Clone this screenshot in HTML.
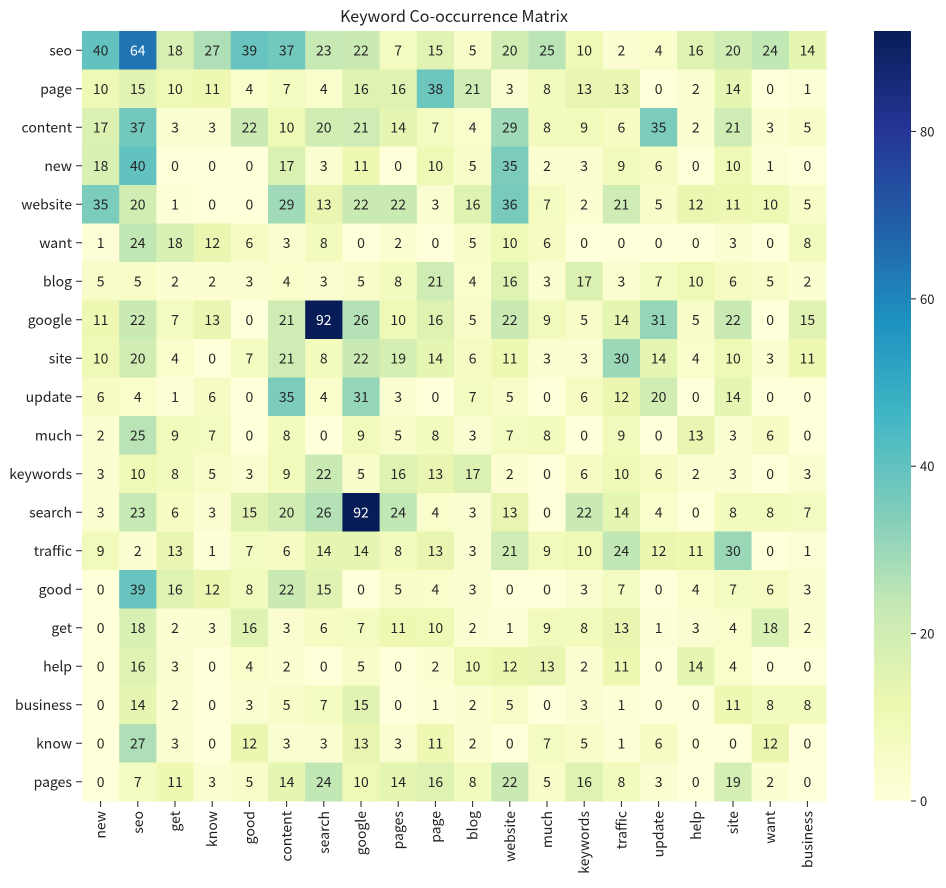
<!DOCTYPE html>
<html><head><meta charset="utf-8"><style>
html,body{margin:0;padding:0;background:#fff;}
svg text{font-family:"Noto Sans CJK JP","Liberation Sans",sans-serif;}
</style></head><body>
<svg id="s" width="946" height="883" xmlns="http://www.w3.org/2000/svg">
<defs><linearGradient id="cb" x1="0" y1="1" x2="0" y2="0">
<stop offset="0" stop-color="#ffffd9"/><stop offset="0.125" stop-color="#edf8b1"/><stop offset="0.25" stop-color="#c7e9b4"/><stop offset="0.375" stop-color="#7fcdbb"/><stop offset="0.5" stop-color="#41b6c4"/><stop offset="0.625" stop-color="#1d91c0"/><stop offset="0.75" stop-color="#225ea8"/><stop offset="0.875" stop-color="#253494"/><stop offset="1" stop-color="#081d58"/>
</linearGradient></defs>
<text x="454" y="22" text-anchor="middle" font-size="16" fill="#222">Keyword Co-occurrence Matrix</text>
<g id="g"></g>
<rect x="874" y="31" width="37" height="770" fill="url(#cb)"/>
</svg>
<script>
var rows=["seo","page","content","new","website","want","blog","google","site","update","much","keywords","search","traffic","good","get","help","business","know","pages"];
var cols=["new","seo","get","know","good","content","search","google","pages","page","blog","website","much","keywords","traffic","update","help","site","want","business"];
var D=`40 64 18 27 39 37 23 22 7 15 5 20 25 10 2 4 16 20 24 14
10 15 10 11 4 7 4 16 16 38 21 3 8 13 13 0 2 14 0 1
17 37 3 3 22 10 20 21 14 7 4 29 8 9 6 35 2 21 3 5
18 40 0 0 0 17 3 11 0 10 5 35 2 3 9 6 0 10 1 0
35 20 1 0 0 29 13 22 22 3 16 36 7 2 21 5 12 11 10 5
1 24 18 12 6 3 8 0 2 0 5 10 6 0 0 0 0 3 0 8
5 5 2 2 3 4 3 5 8 21 4 16 3 17 3 7 10 6 5 2
11 22 7 13 0 21 92 26 10 16 5 22 9 5 14 31 5 22 0 15
10 20 4 0 7 21 8 22 19 14 6 11 3 3 30 14 4 10 3 11
6 4 1 6 0 35 4 31 3 0 7 5 0 6 12 20 0 14 0 0
2 25 9 7 0 8 0 9 5 8 3 7 8 0 9 0 13 3 6 0
3 10 8 5 3 9 22 5 16 13 17 2 0 6 10 6 2 3 0 3
3 23 6 3 15 20 26 92 24 4 3 13 0 22 14 4 0 8 8 7
9 2 13 1 7 6 14 14 8 13 3 21 9 10 24 12 11 30 0 1
0 39 16 12 8 22 15 0 5 4 3 0 0 3 7 0 4 7 6 3
0 18 2 3 16 3 6 7 11 10 2 1 9 8 13 1 3 4 18 2
0 16 3 0 4 2 0 5 0 2 10 12 13 2 11 0 14 4 0 0
0 14 2 0 3 5 7 15 0 1 2 5 0 3 1 0 0 11 8 8
0 27 3 0 12 3 3 13 3 11 2 0 7 5 1 6 0 0 12 0
0 7 11 3 5 14 24 10 14 16 8 22 5 16 8 3 0 19 2 0`.split("\n").map(r=>r.trim().split(/\s+/).map(Number));
var st=[[255,255,217],[237,248,177],[199,233,180],[127,205,187],[65,182,196],[29,145,192],[34,94,168],[37,52,148],[8,29,88]];
function col(v){var t=Math.max(0,Math.min(1,v/92))*8,i=Math.min(7,Math.floor(t)),f=t-i;var c=[0,1,2].map(k=>Math.round(st[i][k]+(st[i+1][k]-st[i][k])*f));return c;}
function lum(c){var l=c.map(x=>{x/=255;return x<=0.03928?x/12.92:Math.pow((x+0.055)/1.055,2.4)});return 0.2126*l[0]+0.7152*l[1]+0.0722*l[2];}
var x0=82,y0=31,cw=37.2,ch=38.5,h="";
for(var r=0;r<20;r++)for(var c=0;c<20;c++){var v=D[r][c],k=col(v);var x=x0+c*cw,y=y0+r*ch;
h+=`<rect x="${x.toFixed(2)}" y="${y.toFixed(2)}" width="${(cw+0.5).toFixed(2)}" height="${(ch+0.5).toFixed(2)}" fill="rgb(${k})"/>`;
h+=`<text x="${(x+cw/2).toFixed(2)}" y="${(y+ch/2+5).toFixed(2)}" text-anchor="middle" font-size="14" fill="${lum(k)<0.408?'#fff':'#262626'}">${v}</text>`;}
for(var r=0;r<20;r++){var y=y0+r*ch+ch/2;h+=`<line x1="76" x2="82" y1="${y}" y2="${y}" stroke="#222"/><text x="72" y="${y+5}" text-anchor="end" font-size="14" fill="#222">${rows[r]}</text>`;}
for(var c=0;c<20;c++){var x=x0+c*cw+cw/2;h+=`<line x1="${x}" x2="${x}" y1="801" y2="807" stroke="#222"/><text transform="translate(${x+5},811) rotate(-90)" text-anchor="end" font-size="14" fill="#222">${cols[c]}</text>`;}
[0,20,40,60,80].forEach(t=>{var y=801-t/92*770;h+=`<line x1="911" x2="916" y1="${y}" y2="${y}" stroke="#222"/><text x="920" y="${y+5}" font-size="13" fill="#222">${t}</text>`;});
document.getElementById("g").innerHTML=h;
</script>
</body></html>
